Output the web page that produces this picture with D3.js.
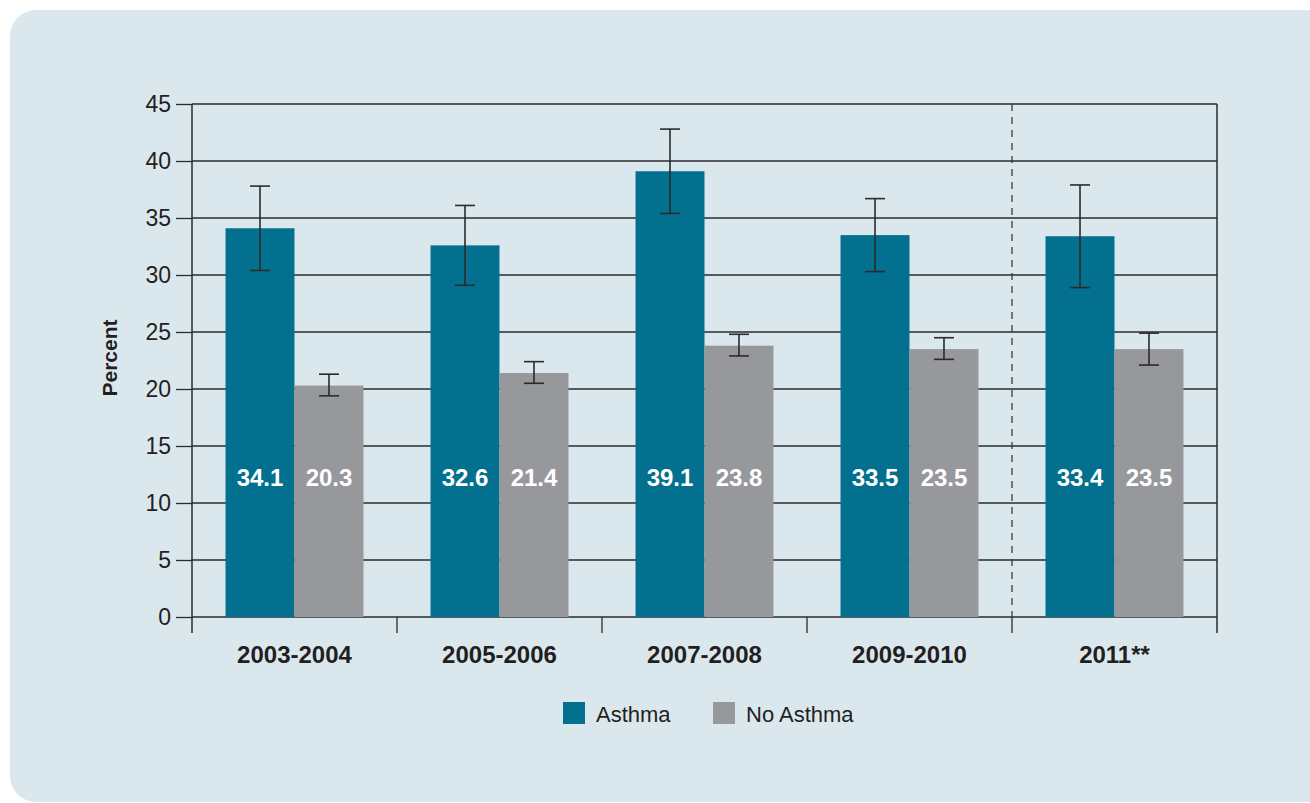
<!DOCTYPE html>
<html>
<head>
<meta charset="utf-8">
<script src="https://cdn.jsdelivr.net/npm/d3@7"></script>
<style>
  body { margin: 0; background: #fff; }
  text { font-family: "Liberation Sans", Arial, sans-serif; fill: #231f20; }
</style>
</head>
<body>
<svg id="chart" width="1310" height="803"></svg>
<script>
// data
var periods = ["2003-2004", "2005-2006", "2007-2008", "2009-2010", "2011**"];
var groups = ["Asthma", "No Asthma"];
var asthma = [34.1, 32.6, 39.1, 33.5, 33.4];
var noAsthma = [20.3, 21.4, 23.8, 23.5, 23.5];
var asthmaLow = [30.4, 29.1, 35.4, 30.3, 28.9];
var asthmaHigh = [37.8, 36.1, 42.8, 36.7, 37.9];
var noAsthmaLow = [19.4, 20.5, 22.9, 22.6, 22.1];
var noAsthmaHigh = [21.3, 22.4, 24.8, 24.5, 24.9];
var yTicks = [0, 5, 10, 15, 20, 25, 30, 35, 40, 45];

var colors = {"Asthma": "#02708e", "No Asthma": "#97989c"};
var ink = "#2b2b2b";

var svg = d3.select("#chart");

// panel background
svg.append("rect")
  .attr("x", 10).attr("y", 10)
  .attr("width", 1330).attr("height", 792)
  .attr("rx", 26)
  .attr("fill", "#dae8ee");

// plot box (window.top is read-only, so no "top" here)
var pLeft = 192, pRight = 1217, pTop = 104, pBottom = 617;

var x = d3.scaleBand().domain(periods).range([pLeft, pRight]).paddingInner(0).paddingOuter(0);
var xs = d3.scaleBand().domain(groups).range([0, x.bandwidth()]).paddingInner(0).paddingOuter(0.486);
var y = d3.scaleLinear().domain([0, 45]).range([pBottom, pTop]);

var rows = periods.map(function(p, i) {
  return [
    {period: p, group: "Asthma", value: asthma[i], lo: asthmaLow[i], hi: asthmaHigh[i]},
    {period: p, group: "No Asthma", value: noAsthma[i], lo: noAsthmaLow[i], hi: noAsthmaHigh[i]}
  ];
});
var flat = d3.merge(rows);

// gridlines
svg.append("g")
  .selectAll("line")
  .data(yTicks)
  .enter().append("line")
  .attr("x1", pLeft).attr("x2", pRight)
  .attr("y1", d => y(d)).attr("y2", d => y(d))
  .attr("stroke", ink).attr("stroke-width", 1.3);

// y axis
var yAxis = svg.append("g")
  .attr("transform", "translate(" + pLeft + ",0)")
  .call(d3.axisLeft(y).tickValues(yTicks).tickSize(16).tickPadding(5));
yAxis.select(".domain").remove();
yAxis.selectAll(".tick line").attr("stroke", ink).attr("stroke-width", 1.3);
yAxis.selectAll(".tick text")
  .attr("font-size", 23)
  .style("font-family", "'Liberation Sans', Arial, sans-serif")
  .attr("fill", "#231f20");

// frame verticals
svg.append("line").attr("x1", pLeft).attr("x2", pLeft).attr("y1", pTop).attr("y2", pBottom + 16)
  .attr("stroke", ink).attr("stroke-width", 1.5);
svg.append("line").attr("x1", pRight).attr("x2", pRight).attr("y1", pTop).attr("y2", pBottom + 16)
  .attr("stroke", ink).attr("stroke-width", 1.5);

// x ticks at band edges
var edges = periods.slice(1).map(p => x(p));
svg.append("g")
  .selectAll("line")
  .data(edges)
  .enter().append("line")
  .attr("x1", d => d).attr("x2", d => d)
  .attr("y1", pBottom).attr("y2", pBottom + 16)
  .attr("stroke", ink).attr("stroke-width", 1.3);

// dashed separator before 2011
svg.append("line")
  .attr("x1", x("2011**")).attr("x2", x("2011**"))
  .attr("y1", pTop).attr("y2", pBottom)
  .attr("stroke", "#3a3a3a").attr("stroke-width", 1.3)
  .attr("stroke-dasharray", "7,6");

// bars
svg.append("g")
  .selectAll("rect")
  .data(flat)
  .enter().append("rect")
  .attr("x", d => x(d.period) + xs(d.group))
  .attr("width", xs.bandwidth())
  .attr("y", d => y(d.value))
  .attr("height", d => y(0) - y(d.value))
  .attr("fill", d => colors[d.group]);

// error bars
var eb = svg.append("g").selectAll("g")
  .data(flat)
  .enter().append("g")
  .attr("transform", d => "translate(" + (x(d.period) + xs(d.group) + xs.bandwidth() / 2) + ",0)");
eb.append("line").attr("x1", 0).attr("x2", 0)
  .attr("y1", d => y(d.lo)).attr("y2", d => y(d.hi))
  .attr("stroke", ink).attr("stroke-width", 1.6);
eb.append("line").attr("x1", -10).attr("x2", 10)
  .attr("y1", d => y(d.hi)).attr("y2", d => y(d.hi))
  .attr("stroke", ink).attr("stroke-width", 1.6);
eb.append("line").attr("x1", -10).attr("x2", 10)
  .attr("y1", d => y(d.lo)).attr("y2", d => y(d.lo))
  .attr("stroke", ink).attr("stroke-width", 1.6);

// value labels
svg.append("g")
  .selectAll("text")
  .data(flat)
  .enter().append("text")
  .attr("x", d => x(d.period) + xs(d.group) + xs.bandwidth() / 2)
  .attr("y", y(11.5))
  .attr("text-anchor", "middle")
  .attr("font-size", 24)
  .attr("font-weight", "bold")
  .style("fill", "#fff")
  .text(d => d.value.toFixed(1));

// category labels
svg.append("g")
  .selectAll("text")
  .data(periods)
  .enter().append("text")
  .attr("x", d => x(d) + x.bandwidth() / 2)
  .attr("y", 663)
  .attr("text-anchor", "middle")
  .attr("font-size", 24)
  .attr("font-weight", "bold")
  .text(d => d);

// y title
svg.append("text")
  .attr("transform", "translate(117,358) rotate(-90)")
  .attr("text-anchor", "middle")
  .attr("font-size", 21)
  .attr("font-weight", "bold")
  .text("Percent");

// legend
var legendX = [563, 713];
var lg = svg.append("g").selectAll("g")
  .data(groups)
  .enter().append("g")
  .attr("transform", (d, i) => "translate(" + legendX[i] + ",702)");
lg.append("rect").attr("width", 22).attr("height", 22).attr("fill", d => colors[d]);
lg.append("text").attr("x", 33).attr("y", 20).attr("font-size", 22).text(d => d);
</script>
</body>
</html>
